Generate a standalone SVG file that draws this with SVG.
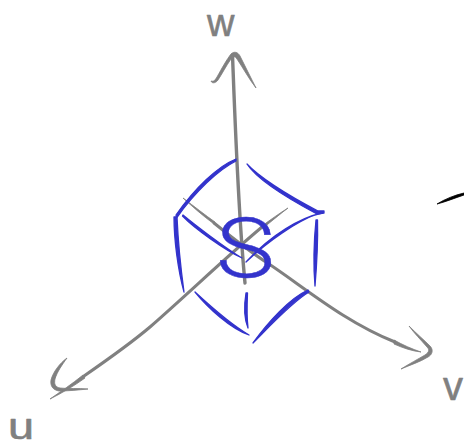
<svg xmlns="http://www.w3.org/2000/svg" width="464" height="447" viewBox="0 0 464 447">
<style>
.g{fill:none;stroke:#808080;stroke-width:3.400;stroke-linecap:round;stroke-linejoin:round}
.g2{stroke-width:3}
.gt{fill:#808080;stroke:#808080;stroke-width:.8;stroke-linejoin:round}
.b{fill:#3333cc;stroke:#3333cc;stroke-width:1.300;stroke-linejoin:round}
.l{fill:#808080;stroke:#808080;stroke-width:.6;stroke-linejoin:round;font-family:"Liberation Sans",Arial,sans-serif}
.s{fill:#3333cc;stroke:#3333cc;stroke-width:.4;font-family:"Roboto","Liberation Sans",sans-serif;font-weight:300}
</style>
<rect width="464" height="447" fill="#ffffff"/>
<g id="axes">
<path class="g" d="M232.500 55 C235 120 238 210 245 283"/>
<path class="gt" d="M183 198 C195 207 205 215 215 222 L214 224 C203 216 193 207 183 198Z"/>
<path class="g g2" d="M214 223 C235 240 250 252 269 264 C305 288 345 322 395 342"/>
<path class="gt" d="M394 340 C403 345 412 349 421 352 C412 351 403 348 394 344Z"/>
<path class="gt" d="M288 208 C280 213 270 220 262 226 L263 228 C272 221 280 214 288 208Z"/>
<path class="g g2" d="M262 227 C225 258 190 292 150 327 C130 344 110 358 84 376"/>
<path class="gt" d="M83 375 C72 384 60 392 50 399 C62 393 74 386 85 378Z"/>
</g>
<g id="arrowheads">
<path class="gt" d="M211 81 C214 82 215 80 217 77 C222 68 227 59 231 54 C234 51 238 52 240 56 C245 66 251 78 256 88 C249 79 243 68 237 59 C235 56 233 56 231 59 C226 66 222 74 218 80 C216 83 212 84 211 81Z"/>
<path class="gt" d="M67 358 C60 363 53 372 51 380 C50 386 53 390 59 391 C68 391 78 390 88 389 C78 388 68 389 60 388 C55 387 54 384 55 379 C57 372 62 365 67 358Z"/>
<path class="gt" d="M409 326 C416 333 424 340 430 346 C434 350 432 355 428 357 C420 362 410 365 401 369 C409 364 418 359 425 355 C429 352 430 350 427 347 C421 340 414 333 409 326Z"/>
</g>
<g id="cube">
<path class="b" d="M236 159 C218 166 195 188 176 215 L176.500 218 C195 192 218 170 236 161Z"/>
<path class="b" d="M174 217 C174 240 178 270 184 292 C181 270 178 240 177 217Z"/>
<path class="b" d="M183 215 C195 225 225 248 242 258 C225 250 195 229 182.500 216Z"/>
<path class="b" d="M247 164 C258 176 285 194 318 211 L324 211 L324 213 L317 214 C285 197 256 178 247 164Z"/>
<path class="b" d="M322 213 C300 218 272 234 246 262 C268 241 296 222 317 214Z"/>
<path class="b" d="M316 220 C314 240 313 262 315 286 C317 262 318 240 317.500 220Z"/>
<path class="b" d="M308 290 C290 298 268 322 253 343 C270 326 292 302 309 292Z"/>
<path class="b" d="M195 292 C208 308 230 328 249 335 C230 324 208 304 195 292Z"/>
<path class="b" d="M246 293 C244 305 244 318 248 328 C246.500 316 247 305 247.500 293Z"/>
</g>
<path id="tick" d="M437 204 C445 199 455 195 464 193 L464 195 C455 198 445 202 437 204Z" fill="#000000" stroke="#000000" stroke-width=".8"/>
<g id="labels">
<text class="l" x="207" y="36" font-size="38">w</text>
<text class="l" transform="translate(8 439) scale(1.300 1)" font-size="36">u</text>
<text class="l" x="443" y="400" font-size="40">v</text>
<text class="s" transform="translate(216 277) scale(1.180 1)" font-size="84">S</text>
</g>
</svg>
